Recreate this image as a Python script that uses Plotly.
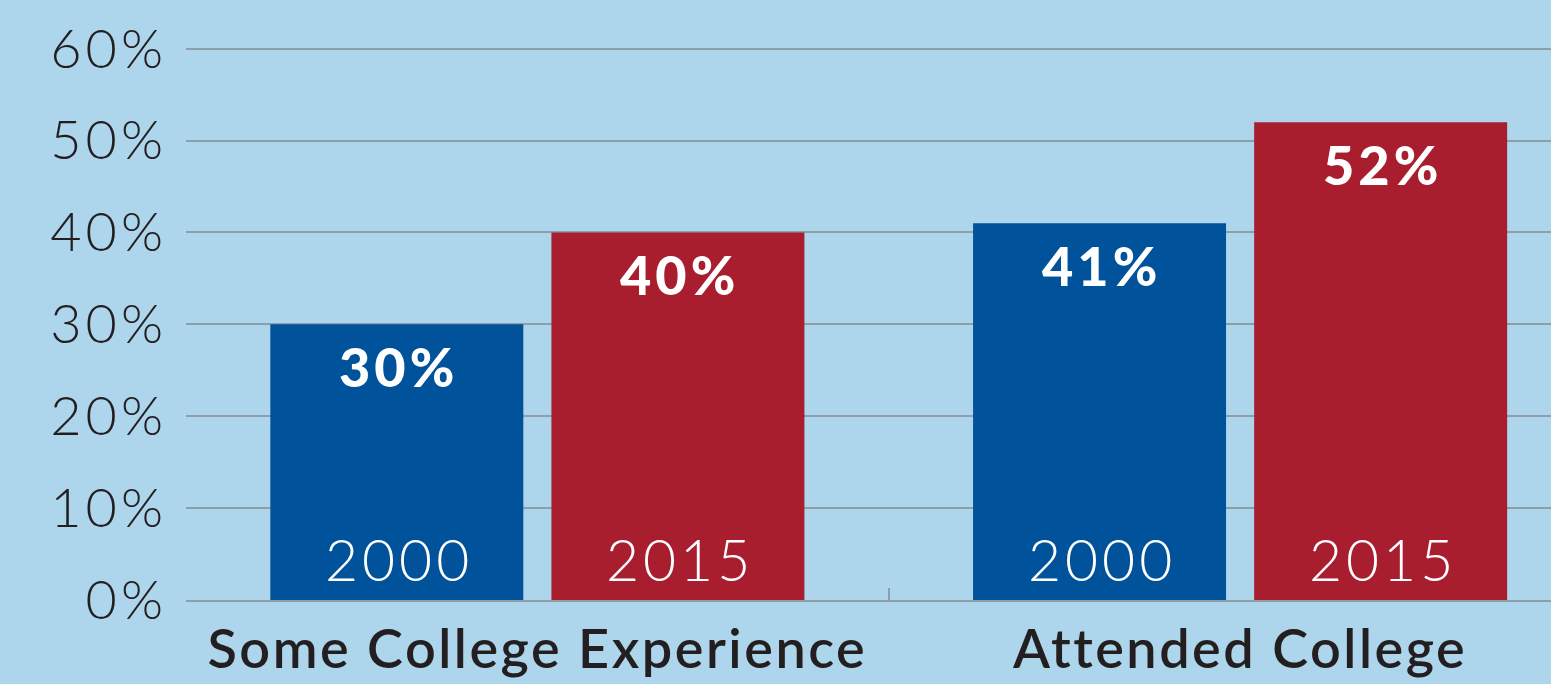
import plotly.graph_objects as go

categories = ["Some College Experience", "Attended College"]
years = ["2000", "2015"]
values_2000 = [30, 41]
values_2015 = [40, 52]
y_ticks = [0, 10, 20, 30, 40, 50, 60]
y_tick_labels = ["0%", "10%", "20%", "30%", "40%", "50%", "60%"]

BG = "#ADD5EB"
BLUE = "#00529B"
RED = "#A91E2F"
GRID = "#8E9FA9"
TEXT = "#231F20"
FONT = "Lato"

W, H = 1551, 684
ML, MR, MT, MB = 186, 0, 0, 84
X_RANGE = [-0.5, 1.4424]
BARGAP = 0.2


def spaced(s, px):
    return f"<span style='letter-spacing:{px}px'>{s}</span>"


fig = go.Figure()

series = [(years[0], values_2000, BLUE), (years[1], values_2015, RED)]
for yr, vals, col in series:
    fig.add_trace(go.Bar(
        x=categories, y=vals, name=yr,
        marker=dict(color=col, line=dict(width=0)),
        hoverinfo="skip", showlegend=False,
    ))

# label offsets derived from the bar layout
cat_px = (W - ML - MR) / (X_RANGE[1] - X_RANGE[0])
slot = cat_px * (1 - BARGAP) / 2
annotations = []
for i, (yr, vals, col) in enumerate(series):
    dx = (i - 0.5) * slot
    for cat, v in zip(categories, vals):
        annotations.append(dict(
            x=cat, y=v, xref="x", yref="y", text=spaced(f"{v}%", 4), showarrow=False,
            xshift=dx + 2, yshift=-42, yanchor="middle",
            font=dict(family=FONT, size=54, color="white", weight=900),
        ))
        annotations.append(dict(
            x=cat, y=0, xref="x", yref="y", text=spaced(yr, 4), showarrow=False,
            xshift=dx + 2, yshift=41, yanchor="middle",
            font=dict(family=FONT, size=57, color="white", weight=300),
        ))

fig.update_layout(
    width=W, height=H,
    margin=dict(l=ML, r=MR, t=MT, b=MB, pad=0),
    paper_bgcolor=BG, plot_bgcolor=BG,
    barmode="group", bargap=BARGAP, bargroupgap=0.1,
    showlegend=False,
    font=dict(family=FONT, color=TEXT),
    annotations=annotations,
)
fig.update_xaxes(
    type="category", range=X_RANGE,
    tickvals=categories, ticktext=[spaced(c, 2.5) for c in categories],
    showline=True, linecolor=GRID, linewidth=2,
    ticks="inside", tickson="boundaries", ticklen=12, tickwidth=2, tickcolor=GRID,
    showgrid=False, zeroline=False,
    tickfont=dict(family=FONT, size=54, color=TEXT, weight=600),
    ticklabelstandoff=1,
)
fig.update_yaxes(
    range=[0, 65.3], tickvals=y_ticks, ticktext=[spaced(t, 4) for t in y_tick_labels],
    showgrid=True, gridcolor=GRID, gridwidth=2, zeroline=False, showline=False,
    tickfont=dict(family=FONT, size=54, color=TEXT, weight=300),
    ticklabelstandoff=18,
)

fig.write_html("out.html")
